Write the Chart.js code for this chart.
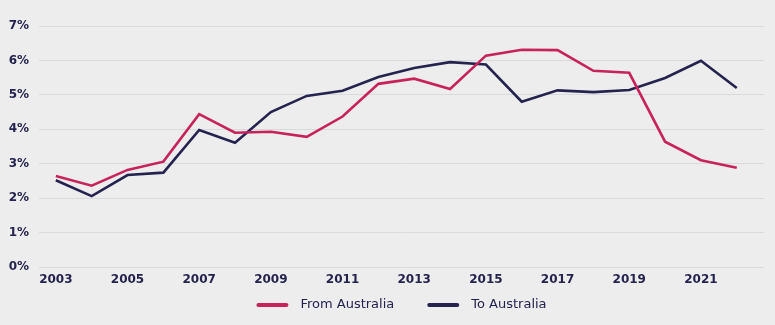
<!DOCTYPE html>
<html>
<head>
<meta charset="utf-8">
<script src="https://cdn.jsdelivr.net/npm/chart.js@4"></script>
<style>
  html, body { margin: 0; padding: 0; background: #ededed; }
  #wrap { width: 775px; height: 325px; }
</style>
</head>
<body>
<div id="wrap"><canvas id="chart" width="775" height="325"></canvas></div>
<script>
// years on the x axis
const years = [2003, 2004, 2005, 2006, 2007, 2008, 2009, 2010, 2011, 2012,
               2013, 2014, 2015, 2016, 2017, 2018, 2019, 2020, 2021, 2022];
// % values
const fromAustralia = [2.64, 2.36, 2.82, 3.06, 4.44, 3.90, 3.93, 3.78, 4.37, 5.32,
                       5.47, 5.17, 6.14, 6.31, 6.30, 5.70, 5.64, 3.64, 3.10, 2.88];
const toAustralia = [2.52, 2.06, 2.67, 2.74, 3.98, 3.61, 4.50, 4.97, 5.12, 5.52,
                     5.78, 5.95, 5.88, 4.80, 5.13, 5.08, 5.14, 5.49, 5.99, 5.20];
const yearTicks = [2003, 2005, 2007, 2009, 2011, 2013, 2015, 2017, 2019, 2021];

const navy = '#24234f';
const red = '#c7235a';
const fontFamily = '"DejaVu Sans", sans-serif';

const toPoints = (vals) => vals.map((v, i) => ({ x: years[i], y: v }));

// legend with a thick line swatch and wider gaps than the built-in one allows
const lineLegend = {
  id: 'lineLegend',
  afterDraw(chart) {
    const ctx = chart.ctx;
    const boxW = 32, textGap = 12, itemGap = 33, y = 305;
    ctx.save();
    ctx.font = '13px ' + fontFamily;
    const items = chart.data.datasets.map(ds => ({
      text: ds.label, color: ds.borderColor, w: ctx.measureText(ds.label).width
    }));
    let total = itemGap * (items.length - 1);
    items.forEach(it => { total += boxW + textGap + it.w; });
    const area = chart.chartArea;
    let x = (area.left + area.right) / 2 - total / 2;
    ctx.textBaseline = 'middle';
    ctx.lineWidth = 4;
    ctx.lineCap = 'round';
    items.forEach(it => {
      ctx.strokeStyle = it.color;
      ctx.beginPath();
      ctx.moveTo(x + 2, y);
      ctx.lineTo(x + boxW - 2, y);
      ctx.stroke();
      x += boxW + textGap;
      ctx.fillStyle = navy;
      ctx.fillText(it.text, x, y);
      x += it.w + itemGap;
    });
    ctx.restore();
  }
};

Chart.defaults.font.family = fontFamily;
Chart.defaults.color = navy;

new Chart(document.getElementById('chart'), {
  type: 'line',
  data: {
    datasets: [
      {
        label: 'From Australia',
        data: toPoints(fromAustralia),
        borderColor: red,
        backgroundColor: red,
        borderWidth: 2.6,
        pointRadius: 0,
        tension: 0
      },
      {
        label: 'To Australia',
        data: toPoints(toAustralia),
        borderColor: navy,
        backgroundColor: navy,
        borderWidth: 2.6,
        pointRadius: 0,
        tension: 0
      }
    ]
  },
  options: {
    responsive: false,
    animation: false,
    layout: { padding: { left: 0, right: 11, top: 26, bottom: 40 } },
    plugins: {
      tooltip: { enabled: false },
      legend: { display: false }
    },
    scales: {
      x: {
        type: 'linear',
        min: 2002.53,
        max: 2022.76,
        afterBuildTicks: (scale) => {
          scale.ticks = yearTicks.map(v => ({ value: v }));
        },
        afterFit: (scale) => { scale.height = 18; },
        grid: { display: false, drawTicks: false },
        border: { display: false },
        ticks: {
          callback: (v) => String(v),
          font: { size: 12, weight: 'bold' },
          color: navy,
          padding: 6,
          maxRotation: 0
        }
      },
      y: {
        min: 0,
        max: 7,
        afterFit: (scale) => { scale.width = 39; },
        grid: { color: '#d9dadd', lineWidth: 1, drawTicks: false },
        border: { display: false },
        ticks: {
          stepSize: 1,
          callback: (v) => v + '%',
          font: { size: 12, weight: 'bold' },
          color: navy,
          padding: 10
        }
      }
    }
  },
  plugins: [lineLegend]
});
</script>
</body>
</html>
